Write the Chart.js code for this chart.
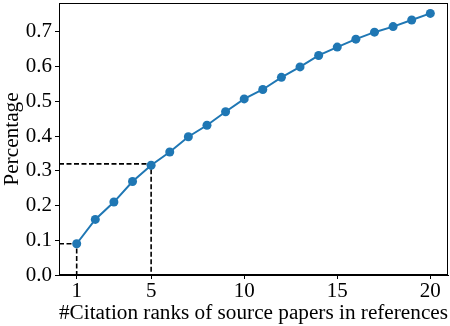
<!DOCTYPE html>
<html>
<head>
<meta charset="utf-8">
<script src="https://cdn.jsdelivr.net/npm/chart.js@4"></script>
<style>
  html, body { margin: 0; padding: 0; background: #fff; }
  #wrap { width: 450px; height: 326px; }
</style>
</head>
<body>
<div id="wrap"><canvas id="rankChart"></canvas></div>
<script>
// citation rank (x) vs. cumulative percentage (y)
const ranks = [1, 2, 3, 4, 5, 6, 7, 8, 9, 10, 11, 12, 13, 14, 15, 16, 17, 18, 19, 20];
const percentages = [0.090, 0.160, 0.210, 0.269, 0.316, 0.354, 0.398, 0.431, 0.470, 0.507,
                     0.534, 0.569, 0.599, 0.632, 0.656, 0.679, 0.699, 0.715, 0.734, 0.753];
const xTicks = [1, 5, 10, 15, 20];
const yTicks = [0.0, 0.1, 0.2, 0.3, 0.4, 0.5, 0.6, 0.7];
// dashed guides: [rank, percentage]
const guideRanks = [1, 5];
const guideValues = [0.09, 0.32];

const X_MIN = 0.05, X_MAX = 20.95;
const Y_MIN = 0, Y_MAX = 0.783;
const FONT = 'Liberation Serif, "Times New Roman", serif';

const guideSets = guideRanks.map((r, i) => ({
    data: [{ x: X_MIN, y: guideValues[i] }, { x: r, y: guideValues[i] }, { x: r, y: 0 }],
    borderColor: '#000',
    borderWidth: 1.6,
    borderDash: [5, 2.5],
    pointRadius: 0,
    fill: false,
    order: 2
}));

const framePlugin = {
    id: 'frame',
    afterDraw(chart) {
        const { ctx, chartArea: a } = chart;
        ctx.save();
        ctx.strokeStyle = '#000';
        ctx.lineWidth = 1;
        ctx.strokeRect(a.left + 0.5, a.top + 0.5, a.right - a.left - 1, a.bottom - a.top - 1);
        ctx.restore();
    }
};

const ctx = document.getElementById('rankChart').getContext('2d');
new Chart(ctx, {
    type: 'line',
    data: {
        datasets: [
            {
                data: ranks.map((r, i) => ({ x: r, y: percentages[i] })),
                borderColor: '#1f77b4',
                backgroundColor: '#1f77b4',
                borderWidth: 2,
                pointRadius: 4.5,
                pointBorderWidth: 0,
                fill: false,
                order: 1
            },
            ...guideSets
        ]
    },
    options: {
        responsive: true,
        maintainAspectRatio: false,
        animation: false,
        layout: { autoPadding: false, padding: { top: 3, right: 2, left: 0, bottom: 0 } },
        plugins: { legend: { display: false }, tooltip: { enabled: false } },
        scales: {
            x: {
                type: 'linear',
                min: X_MIN,
                max: X_MAX,
                afterBuildTicks: s => { s.ticks = xTicks.map(v => ({ value: v })); },
                afterFit: s => { s.height = 51; s.paddingLeft = 0; s.paddingRight = 0; },
                ticks: { color: '#000', font: { family: FONT, size: 21 }, padding: 0, maxRotation: 0, callback: v => v },
                grid: { drawOnChartArea: false, tickLength: 4, tickColor: '#000' },
                border: { color: '#000', width: 1 },
                title: { display: true, text: '#Citation ranks of source papers in references', color: '#000',
                         font: { family: FONT, size: 21.3 }, padding: 0 }
            },
            y: {
                min: Y_MIN,
                max: Y_MAX,
                afterBuildTicks: s => { s.ticks = yTicks.map(v => ({ value: v })); },
                afterFit: s => { s.width = 59; s.paddingTop = 0; s.paddingBottom = 0; },
                ticks: { color: '#000', font: { family: FONT, size: 21 }, padding: 3, callback: v => v.toFixed(1) },
                grid: { drawOnChartArea: false, tickLength: 4, tickColor: '#000' },
                border: { color: '#000', width: 1 },
                title: { display: true, text: 'Percentage', color: '#000', font: { family: FONT, size: 21.3 }, padding: 0 }
            }
        }
    },
    plugins: [framePlugin]
});
</script>
</body>
</html>
